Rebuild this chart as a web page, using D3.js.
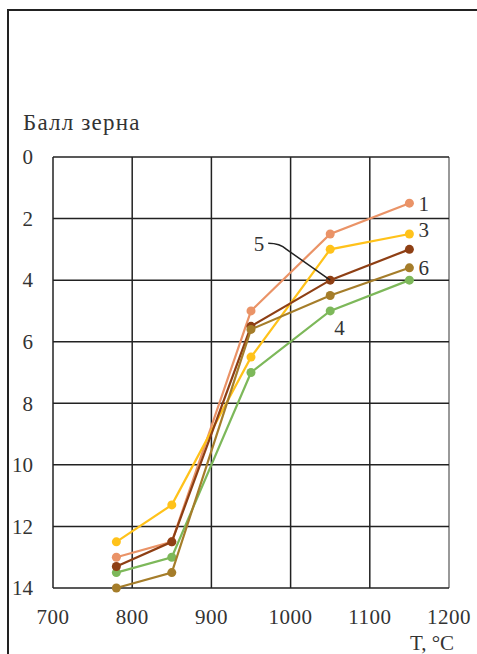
<!DOCTYPE html>
<html>
<head>
<meta charset="utf-8">
<script src="https://cdn.jsdelivr.net/npm/d3@7"></script>
<style>
  body { margin: 0; background: #fff; }
</style>
</head>
<body>
<svg id="chart" width="477" height="654"></svg>
<script>
// temperatures, °C
var temps = [780, 850, 950, 1050, 1150];

// grain size number for each curve
var curve1 = [13.0, 12.5, 5.0, 2.5, 1.5];
var curve3 = [12.5, 11.3, 6.5, 3.0, 2.5];
var curve4 = [13.5, 13.0, 7.0, 5.0, 4.0];
var curve5 = [13.3, 12.5, 5.5, 4.0, 3.0];
var curve6 = [14.0, 13.5, 5.6, 4.5, 3.6];

var curveNames = ['1', '3', '4', '5', '6'];
var curveColors = ['#ea9367', '#ffc21a', '#7db85a', '#8e3f14', '#a57d2a'];

var xTicks = [700, 800, 900, 1000, 1100, 1200];
var yTicks = [0, 2, 4, 6, 8, 10, 12, 14];

var series = [curve1, curve3, curve4, curve5, curve6].map(function(vals, i) {
    return { name: curveNames[i], color: curveColors[i], points: vals.map(function(v, j) { return { t: temps[j], v: v }; }) };
});

var fontFam = '"Times New Roman", Times, Tinos, "Liberation Serif", "DejaVu Serif", "Noto Serif", FreeSerif, serif';
var fontSize = '21px';
var textColor = '#333';

var svg = d3.select('#chart').attr('font-family', fontFam);

// outer frame (left and top edges only)
svg.append('path')
    .attr('d', 'M8,654 L8,10 L477,10')
    .attr('fill', 'none')
    .attr('stroke', '#222')
    .attr('stroke-width', 2);

var x = d3.scaleLinear().domain([700, 1200]).range([53, 449]);
var y = d3.scaleLinear().domain([0, 14]).range([157, 588]);

// grid
var grid = svg.append('g');
grid.selectAll('line.v')
    .data(xTicks)
    .join('line')
    .attr('class', 'v')
    .attr('x1', d => x(d)).attr('x2', d => x(d))
    .attr('y1', y(0)).attr('y2', y(14))
    .attr('stroke', d => d == 1200 ? '#777' : '#222')
    .attr('stroke-width', 1.5);
grid.selectAll('line.h')
    .data(yTicks)
    .join('line')
    .attr('class', 'h')
    .attr('x1', x(700)).attr('x2', x(1200))
    .attr('y1', d => y(d)).attr('y2', d => y(d))
    .attr('stroke', '#222')
    .attr('stroke-width', 1.5);

// tick labels
svg.append('g')
    .selectAll('text')
    .data(yTicks)
    .join('text')
    .attr('font-family', fontFam)
    .attr('x', 33)
    .attr('y', d => y(d))
    .attr('dy', '0.35em')
    .attr('text-anchor', 'end')
    .attr('font-size', fontSize)
    .attr('fill', textColor)
    .text(d => d);

svg.append('g')
    .selectAll('text')
    .data(xTicks)
    .join('text')
    .attr('font-family', fontFam)
    .attr('x', d => x(d))
    .attr('y', 624)
    .attr('text-anchor', 'middle')
    .attr('font-size', fontSize)
    .attr('letter-spacing', '0.5px')
    .attr('fill', textColor)
    .text(d => d);

// axis titles
svg.append('text')
    .attr('font-family', fontFam)
    .attr('x', 23).attr('y', 130)
    .attr('font-size', '23px')
    .attr('letter-spacing', '1.2px')
    .attr('fill', textColor)
    .text('Балл зерна');

svg.append('text')
    .attr('font-family', fontFam)
    .attr('x', 432).attr('y', 650)
    .attr('text-anchor', 'middle')
    .attr('font-size', fontSize)
    .attr('fill', textColor)
    .text('T, °C');

// curves
var line = d3.line().x(d => x(d.t)).y(d => y(d.v));

var curves = svg.append('g')
    .selectAll('g')
    .data(series)
    .join('g');

curves.append('path')
    .attr('d', d => line(d.points))
    .attr('fill', 'none')
    .attr('stroke', d => d.color)
    .attr('stroke-width', 2.2);

curves.selectAll('circle')
    .data(d => d.points.map(p => ({ t: p.t, v: p.v, color: d.color })))
    .join('circle')
    .attr('cx', d => x(d.t))
    .attr('cy', d => y(d.v))
    .attr('r', 4.5)
    .attr('fill', d => d.color);

// curve labels
function lastPoint(vals) { return { t: temps[temps.length - 1], v: vals[vals.length - 1] }; }
var endLabels = [
    { name: '1', p: lastPoint(curve1), dx: 9, dy: 0 },
    { name: '3', p: lastPoint(curve3), dx: 9, dy: -4 },
    { name: '6', p: lastPoint(curve6), dx: 9, dy: 0 },
    { name: '4', p: { t: temps[3], v: curve4[3] }, dx: 4, dy: 17 }
];
svg.append('g')
    .selectAll('text')
    .data(endLabels)
    .join('text')
    .attr('font-family', fontFam)
    .attr('x', d => x(d.p.t) + d.dx)
    .attr('y', d => y(d.p.v) + d.dy)
    .attr('dy', '0.35em')
    .attr('font-size', fontSize)
    .attr('fill', textColor)
    .text(d => d.name);

// "5" with leader line to its point at 1050 °C
var p5x = x(temps[3]), p5y = y(curve5[3]);
svg.append('path')
    .attr('d', 'M' + (p5x - 62) + ',' + (p5y - 37) + ' Q' + (p5x - 50) + ',' + (p5y - 37) + ' ' + (p5x - 44) + ',' + (p5y - 31) + ' L' + p5x + ',' + p5y)
    .attr('fill', 'none')
    .attr('stroke', '#222')
    .attr('stroke-width', 1.5);
svg.append('text')
    .attr('font-family', fontFam)
    .attr('x', p5x - 66).attr('y', p5y - 36)
    .attr('dy', '0.35em')
    .attr('text-anchor', 'end')
    .attr('font-size', fontSize)
    .attr('fill', textColor)
    .text('5');
</script>
</body>
</html>
